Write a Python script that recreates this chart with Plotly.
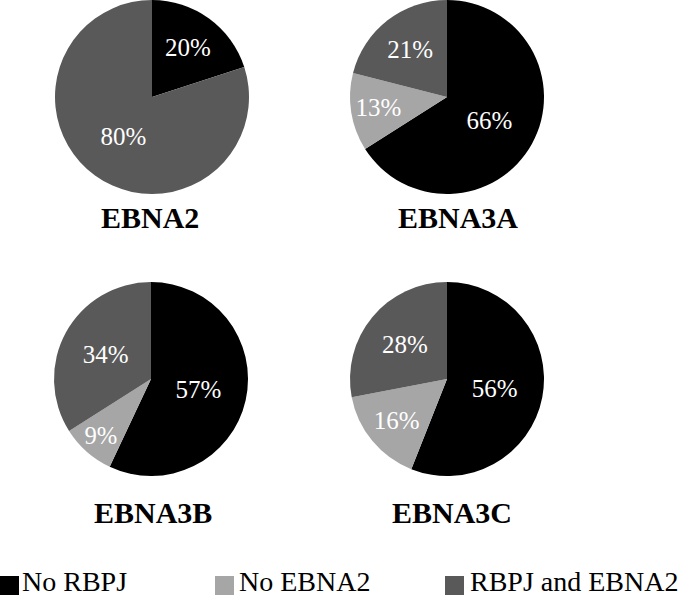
import plotly.graph_objects as go

categories = ["No RBPJ", "No EBNA2", "RBPJ and EBNA2"]
pie_titles = ["EBNA2", "EBNA3A", "EBNA3B", "EBNA3C"]
ebna2 = [20, 0, 80]
ebna3a = [66, 13, 21]
ebna3b = [57, 9, 34]
ebna3c = [56, 16, 28]
series = [ebna2, ebna3a, ebna3b, ebna3c]

colors = ["#000000", "#a6a6a6", "#595959"]
W, H = 680, 598
FONT = "Liberation Serif"

# layout (pixels): pie center x, center y, radius, title center x, title center y
geom = [(152, 97, 97, 150, 217), (447, 97, 97, 458, 217),
        (151, 379, 97, 153, 512), (447, 379, 97, 452, 512)]
# legend layout (pixels): square left x, text left x
legend_pos = [(0, 23), (215, 240), (445, 471)]
LEG_TOP, LEG_BOT = 576, 595

def clamp(v):
    return max(0.0, min(1.0, v))

fig = go.Figure()
for i, (vals, title) in enumerate(zip(series, pie_titles)):
    cx, cy, r, tx, ty = geom[i]
    fig.add_trace(go.Pie(
        labels=categories,
        values=vals,
        text=[f"{v}%" if v > 0 else "" for v in vals],
        textinfo="text",
        textposition="inside",
        insidetextorientation="horizontal",
        insidetextfont=dict(family=FONT, size=25, color="white"),
        textfont=dict(family=FONT, size=25, color="white"),
        marker=dict(colors=colors, line=dict(width=0)),
        sort=False,
        direction="clockwise",
        rotation=0,
        showlegend=False,
        hoverinfo="label+percent",
        domain=dict(x=[clamp((cx - r) / W), clamp((cx + r) / W)],
                    y=[clamp(1 - (cy + r) / H), clamp(1 - (cy - r) / H)]),
    ))
    fig.add_annotation(
        x=tx / W, y=1 - ty / H, xref="paper", yref="paper",
        text=f"<b>{title}</b>", showarrow=False,
        font=dict(family=FONT, size=30, color="black"),
        xanchor="center", yanchor="middle",
    )

# legend built from the category names and colours
for name, col, (sx, tx) in zip(categories, colors, legend_pos):
    fig.add_shape(
        type="rect", xref="paper", yref="paper",
        x0=sx / W, x1=(sx + 19) / W, y0=1 - LEG_BOT / H, y1=1 - LEG_TOP / H,
        fillcolor=col, line=dict(width=0),
    )
    fig.add_annotation(
        x=tx / W, y=0, xref="paper", yref="paper",
        text=name, showarrow=False, borderpad=0,
        font=dict(family=FONT, size=28, color="black"),
        xanchor="left", yanchor="bottom", xshift=-2,
    )

fig.update_layout(
    width=W, height=H,
    margin=dict(l=0, r=0, t=0, b=0),
    paper_bgcolor="white", plot_bgcolor="white",
    font=dict(family=FONT, color="black"),
    showlegend=False,
)
fig.write_html(
    "out.html",
    config={"displayModeBar": False},
    post_script="document.body.style.margin='0';document.body.style.padding='0';document.body.style.overflow='hidden';",
)
